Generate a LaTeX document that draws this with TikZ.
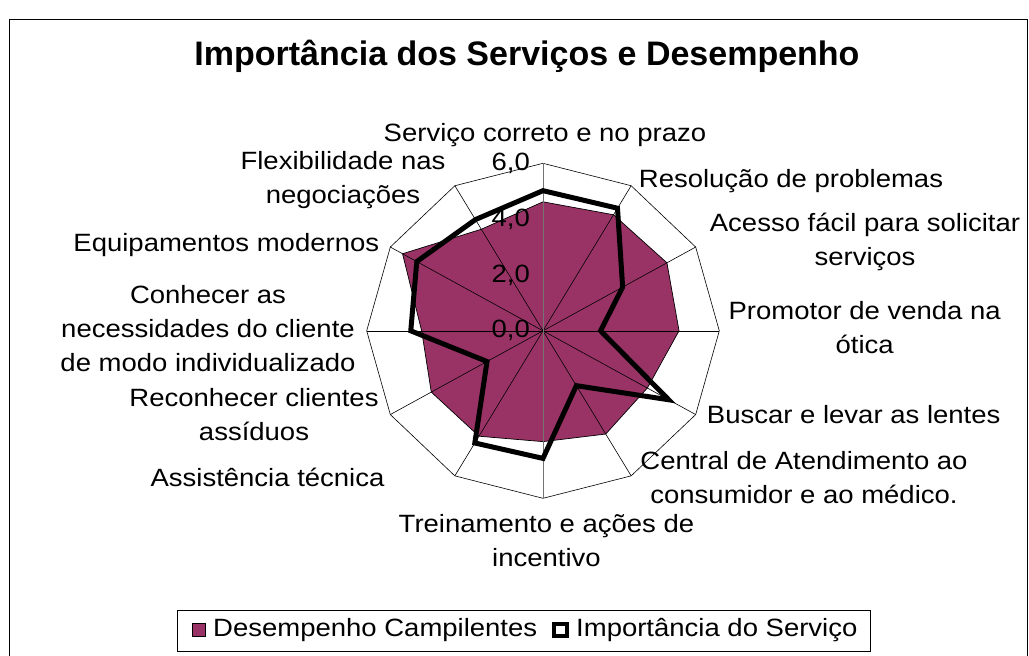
\documentclass[tikz,border=0pt]{standalone}
\usepackage{fontspec}
\setmainfont{Liberation Sans}
\newfontfamily\lblfont[FakeStretch=1.1]{Liberation Sans}
\definecolor{plum}{HTML}{993366}
\begin{document}
\begin{tikzpicture}[x=1pt,y=-1pt,
  lbl/.style={font=\lblfont\fontsize{25}{34}\selectfont, align=center, inner sep=0pt, anchor=base},
  tick/.style={font=\lblfont\fontsize{25}{34}\selectfont, inner sep=0pt, anchor=east},
  leg/.style={font=\lblfont\fontsize{25}{34}\selectfont, inner sep=0pt, anchor=base west},
  spoke/.style={line width=0.6pt, black},
  perf/.style={fill=plum, draw=black, line width=0.7pt, line join=miter},
  imp/.style={draw=black, line width=5pt, line join=miter}]
\useasboundingbox (0,0) rectangle (1029,656);
\draw[line width=1pt] (9.5,19) rectangle (1027,680);
\node[font=\bfseries\fontsize{34}{40}\selectfont, anchor=base, inner sep=0pt] (title) at (527,65) {Importância dos Serviços e Desempenho};
% geometry
\def\cx{543}\def\cy{330.8}\def\rx{176.3}\def\ry{167.5}
\coordinate (c) at (\cx,\cy);
\foreach \k in {0,...,11}
  \coordinate (o\k) at ({\cx+\rx*sin(30*\k)},{\cy-\ry*cos(30*\k)});
\foreach \v [count=\k from 0] in {4.62,4.8,4.87,4.63,4.1,4.27,3.97,4.36,4.39,4.13,5.52,4.2}
  \coordinate (d\k) at ({\cx+\v/6*\rx*sin(30*\k)},{\cy-\v/6*\ry*cos(30*\k)});
\foreach \v [count=\k from 0] in {5.02,5.07,3.13,1.96,4.94,2.27,4.57,4.64,2.2,4.5,4.96,4.6}
  \coordinate (i\k) at ({\cx+\v/6*\rx*sin(30*\k)},{\cy-\v/6*\ry*cos(30*\k)});
% outer grid
\draw[spoke] (o0) \foreach \k in {1,...,11}{ -- (o\k)} -- cycle;
% performance area
\draw[perf] (d0) \foreach \k in {1,...,11}{ -- (d\k)} -- cycle;
% spokes
\foreach \k in {1,2,3,4,5,7,8,9,10,11} \draw[spoke] (c) -- (o\k);
\draw[line width=0.8pt, black!55] (o0) -- (o6);
% importance line
\draw[imp] (i0) \foreach \k in {1,...,11}{ -- (i\k)} -- cycle;
% tick labels
\node[tick] (t0) at (530,{\cy}) {0,0};
\node[tick] (t2) at (530,{\cy-2/6*\ry}) {2,0};
\node[tick] (t4) at (530,{\cy-4/6*\ry}) {4,0};
\node[tick] (t6) at (530,{\cy-\ry}) {6,0};
% category labels (anchor = baseline of last line)
\node[lbl] (l0) at (545,141) {Serviço correto e no prazo};
\node[lbl] (l1) at (791,187.7) {Resolução de problemas};
\node[lbl] (l2) at (865,265.5) {Acesso fácil para solicitar\\serviços};
\node[lbl] (l3) at (864.7,353) {Promotor de venda na\\ótica};
\node[lbl] (l4) at (853.7,423.3) {Buscar e levar as lentes};
\node[lbl] (l5) at (804,503) {Central de Atendimento ao\\consumidor e ao médico.};
\node[lbl] (l6) at (546.5,566) {Treinamento e ações de\\incentivo};
\node[lbl] (l7) at (267.5,486.7) {Assistência técnica};
\node[lbl] (l8) at (254,440) {Reconhecer clientes\\assíduos};
\node[lbl] (l9) at (208,371.7) {Conhecer as\\necessidades do cliente\\de modo individualizado};
\node[lbl] (l10) at (226.3,251.7) {Equipamentos modernos};
\node[lbl] (l11) at (343,203.5) {Flexibilidade nas\\negociações};
% legend
\draw[line width=0.8pt] (177.5,610.5) rectangle (870.5,651.5);
\draw[fill=plum, draw=black, line width=0.7pt] (192.5,623.5) rectangle (205.5,636.5);
\node[leg] (lg1) at (213,636) {Desempenho Campilentes};
\draw[draw=black, line width=4pt, fill=white] (554,624) rectangle (567,636);
\node[leg] (lg2) at (576,636) {Importância do Serviço};
\end{tikzpicture}
\end{document}
